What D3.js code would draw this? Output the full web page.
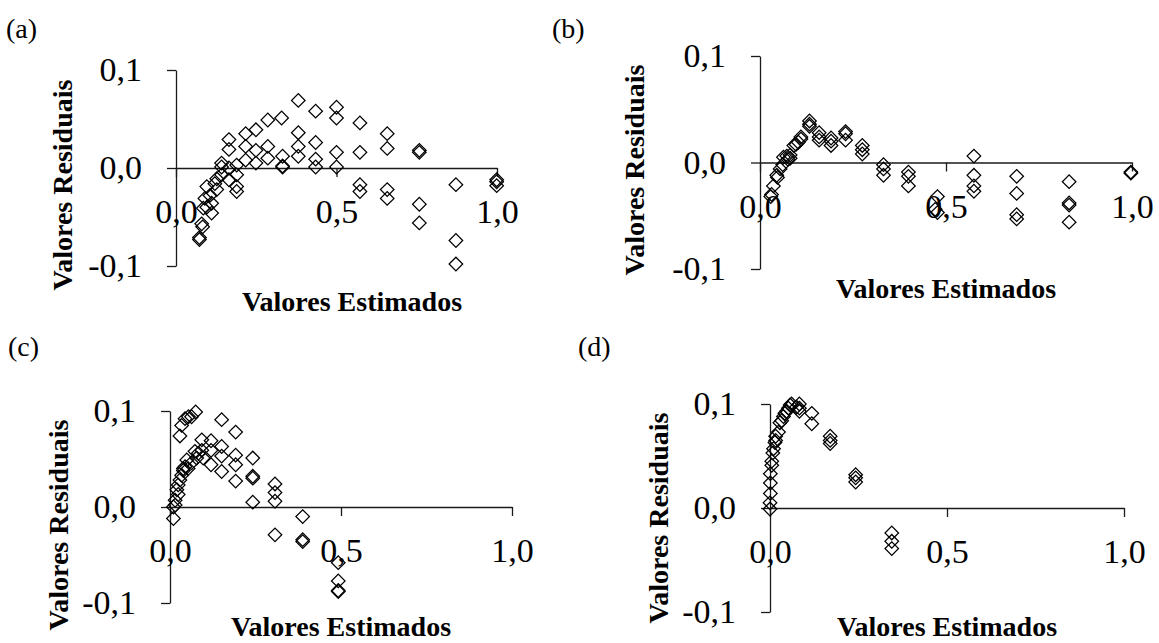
<!DOCTYPE html>
<html>
<head>
<meta charset="utf-8">
<script src="https://cdn.jsdelivr.net/npm/d3@7"></script>
<style>
  html, body { margin: 0; padding: 0; background: #fff; }
  svg { display: block; }
  text { font-family: "Liberation Serif", "Times New Roman", serif; fill: #000; }
</style>
</head>
<body>
<svg id="chart" width="1159" height="643"></svg>
<script>
// ---------- DATA ----------
const panelLabels = ["(a)", "(b)", "(c)", "(d)"];
const xTitle = "Valores Estimados";
const yTitle = "Valores Residuais";
const xTicks = [0, 0.5, 1.0];
const yTicks = [-0.1, 0, 0.1];

const estA = [0.381,0.435,0.500,0.500,0.573,0.658,0.658,0.758,0.758,0.329,0.286,0.249,0.217,0.165,0.165,0.217,0.249,0.286,0.381,0.381,0.381,0.435,0.435,0.435,0.500,0.500,0.573,0.573,0.573,0.658,0.658,0.758,0.758,0.872,0.872,0.872,0.999,0.999,0.999,0.332,0.332,0.332,0.286,0.249,0.217,0.189,0.189,0.165,0.189,0.189,0.142,0.142,0.165,0.142,0.127,0.121,0.127,0.096,0.106,0.090,0.111,0.096,0.111,0.085,0.080,0.083,0.073,0.073];
const resA = [0.069,0.058,0.062,0.051,0.046,0.035,0.020,0.018,0.016,0.051,0.049,0.039,0.035,0.029,0.019,0.022,0.018,0.022,0.036,0.022,0.012,0.026,0.009,0.001,0.016,0.001,0.016,-0.017,-0.024,-0.022,-0.031,-0.037,-0.056,-0.017,-0.074,-0.098,-0.012,-0.014,-0.018,0.012,0.002,0.001,0.010,0.005,0.008,0.003,-0.007,-0.012,-0.019,-0.024,0.005,0.001,0.000,-0.007,-0.011,-0.016,-0.022,-0.019,-0.028,-0.031,-0.036,-0.040,-0.046,-0.041,-0.057,-0.060,-0.073,-0.071];

const estB = [0.133,0.133,0.133,0.159,0.159,0.159,0.191,0.191,0.191,0.230,0.230,0.230,0.275,0.275,0.275,0.332,0.332,0.332,0.399,0.399,0.399,0.477,0.477,0.471,0.575,0.575,0.575,0.575,0.690,0.690,0.690,0.690,0.831,0.831,0.831,0.831,0.997,0.997,0.029,0.031,0.036,0.045,0.047,0.054,0.061,0.063,0.072,0.075,0.081,0.081,0.091,0.097,0.103,0.110,0.110];
const resB = [0.039,0.036,0.034,0.028,0.024,0.021,0.023,0.020,0.016,0.029,0.027,0.021,0.016,0.012,0.008,-0.002,-0.006,-0.012,-0.009,-0.013,-0.022,-0.032,-0.047,-0.044,0.006,-0.012,-0.022,-0.027,-0.013,-0.029,-0.049,-0.053,-0.018,-0.038,-0.040,-0.056,-0.009,-0.010,-0.032,-0.030,-0.022,-0.012,-0.014,-0.006,-0.002,0.005,0.006,0.003,0.004,0.007,0.016,0.017,0.019,0.024,0.022];

const estC = [0.029,0.034,0.044,0.054,0.063,0.075,0.151,0.192,0.093,0.120,0.120,0.151,0.151,0.192,0.192,0.242,0.242,0.242,0.242,0.307,0.307,0.307,0.307,0.388,0.388,0.388,0.492,0.492,0.492,0.492,0.120,0.151,0.192,0.097,0.073,0.078,0.063,0.049,0.044,0.039,0.053,0.034,0.029,0.024,0.020,0.024,0.015,0.015,0.010,0.010,0.039,0.093,0.083];
const resC = [0.074,0.085,0.092,0.094,0.094,0.099,0.091,0.078,0.070,0.069,0.059,0.063,0.053,0.054,0.044,0.051,0.032,0.030,0.005,0.024,0.015,0.006,-0.029,-0.010,-0.034,-0.036,-0.058,-0.077,-0.087,-0.088,0.044,0.037,0.027,0.051,0.058,0.051,0.046,0.049,0.042,0.040,0.040,0.033,0.028,0.023,0.018,0.013,0.007,0.002,0.000,-0.012,0.038,0.059,0.056];

const estD = [0.000,0.000,0.001,0.001,0.001,0.005,0.008,0.014,0.016,0.024,0.028,0.033,0.042,0.052,0.057,0.083,0.083,0.083,0.118,0.118,0.170,0.170,0.170,0.242,0.242,0.242,0.344,0.344,0.344,0.010,0.005,0.016,0.038,0.047,0.075,0.061];
const resD = [-0.001,0.005,0.014,0.024,0.033,0.041,0.053,0.063,0.065,0.073,0.082,0.084,0.091,0.096,0.099,0.100,0.096,0.093,0.091,0.081,0.069,0.065,0.062,0.032,0.029,0.025,-0.024,-0.032,-0.039,0.057,0.045,0.069,0.088,0.093,0.097,0.100];

const seriesX = [estA, estB, estC, estD];
const seriesY = [resA, resB, resC, resD];

// ---------- LAYOUT ----------
const layout = [
  { x0: 176, x1: 497, yTop: 70,  yBot: 266, yt: [62, 185],  xt: [352, 311], lab: [6, 38] },
  { x0: 760, x1: 1132, yTop: 56, yBot: 269, yt: [634, 170], xt: [946, 298], lab: [552, 38] },
  { x0: 170, x1: 512, yTop: 411, yBot: 603, yt: [58, 525],  xt: [341, 636], lab: [8, 356] },
  { x0: 770, x1: 1124, yTop: 404, yBot: 612, yt: [658, 518], xt: [947, 636], lab: [578, 356] }
];

const fmt = v => v.toFixed(1).replace(".", ",");
const svg = d3.select("#chart");
const diamond = d3.symbol().type(d3.symbolSquare).size(92);

layout.forEach((L, i) => {
  const x = d3.scaleLinear().domain([0, 1]).range([L.x0, L.x1]);
  const y = d3.scaleLinear().domain([-0.1, 0.1]).range([L.yBot, L.yTop]);
  const g = svg.append("g");

  // y axis
  const ya = g.append("g").attr("transform", `translate(${L.x0},0)`)
    .call(d3.axisLeft(y).tickValues(yTicks).tickFormat(fmt).tickSize(9).tickSizeOuter(0).tickPadding(25));
  // x axis at y = 0
  const xa = g.append("g").attr("transform", `translate(0,${y(0)})`)
    .call(d3.axisBottom(x).tickValues(xTicks).tickFormat(fmt).tickSize(9).tickSizeOuter(0).tickPadding(22));

  [ya, xa].forEach(a => {
    a.selectAll("path.domain").attr("stroke", "#1a1a1a").attr("stroke-width", 1.3);
    a.selectAll(".tick line").attr("stroke", "#1a1a1a").attr("stroke-width", 1.3);
    a.selectAll(".tick text").style("font-family", '"Liberation Serif", serif')
      .style("font-size", "34px").attr("fill", "#000");
  });

  // points
  const pts = seriesX[i].map((v, k) => [v, seriesY[i][k]]);
  g.append("g").selectAll("path").data(pts).join("path")
    .attr("d", diamond)
    .attr("transform", d => `translate(${x(d[0])},${y(d[1])}) rotate(45)`)
    .attr("fill", "none").attr("stroke", "#000").attr("stroke-width", 1.25);

  // titles
  g.append("text").attr("x", L.xt[0]).attr("y", L.xt[1]).attr("text-anchor", "middle")
    .style("font-size", "28px").style("font-weight", "bold").text(xTitle);
  g.append("text").attr("transform", `translate(${L.yt[0] + 9.5},${L.yt[1]}) rotate(-90)`)
    .attr("text-anchor", "middle").style("font-size", "28px").style("font-weight", "bold").text(yTitle);
  g.append("text").attr("x", L.lab[0]).attr("y", L.lab[1])
    .style("font-size", "28px").text(panelLabels[i]);
});
</script>
</body>
</html>
